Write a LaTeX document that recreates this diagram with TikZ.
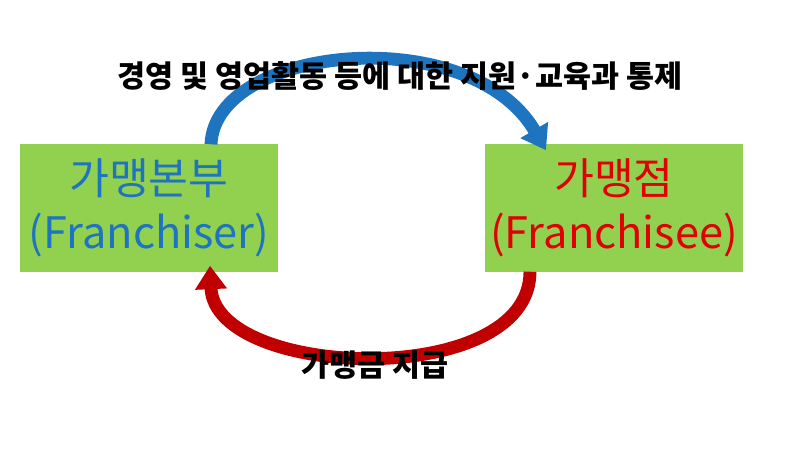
\documentclass[tikz,border=0pt]{standalone}
\usepackage{fontspec}
\setmainfont{Noto Sans CJK KR}
\usetikzlibrary{arrows.meta}
\definecolor{boxgreen}{HTML}{92D050}
\definecolor{hqblue}{HTML}{1F74C0}
\definecolor{shopred}{HTML}{E00000}
\definecolor{payred}{HTML}{C00000}
\tikzset{%
  >={Triangle[width=26pt,length=20pt]},
  % Specifications for style of nodes:
       party/.style = {rectangle, fill=boxgreen, minimum width=258*0.03cm,
                       minimum height=127*0.03cm, align=center,
                       font=\fontsize{37}{46}\selectfont},
        flow/.style = {line width=11pt},
       label/.style = {font=\fontsize{26}{30}\selectfont\bfseries},
}
\begin{document}
\begin{tikzpicture}[x=0.03cm, y=-0.03cm]
  \useasboundingbox (0,0) rectangle (800,450);
  % Specification of nodes (position, etc.)
  \node (hq)    [party, text=hqblue]  at (149,208) {가맹본부\\(Franchiser)};
  \node (shop)  [party, text=shopred] at (614,208) {가맹점\\(Franchisee)};

  \draw[->, flow, hqblue]  ([xshift=62*0.03cm]hq.north) .. controls (215,45) and (470,20) .. ([xshift=-68*0.03cm, yshift=-6*0.03cm]shop.north);
  \draw[->, flow, payred]  ([xshift=-84*0.03cm]shop.south) .. controls (530,390) and (215,380) .. ([xshift=61*0.03cm, yshift=6*0.03cm]hq.south);

  \node (topl)  [label] at (400,76)  {경영 및 영업활동 등에 대한 지원·교육과 통제};
  \node (botl)  [label] at (375,365) {가맹금 지급};
\end{tikzpicture}
\end{document}
